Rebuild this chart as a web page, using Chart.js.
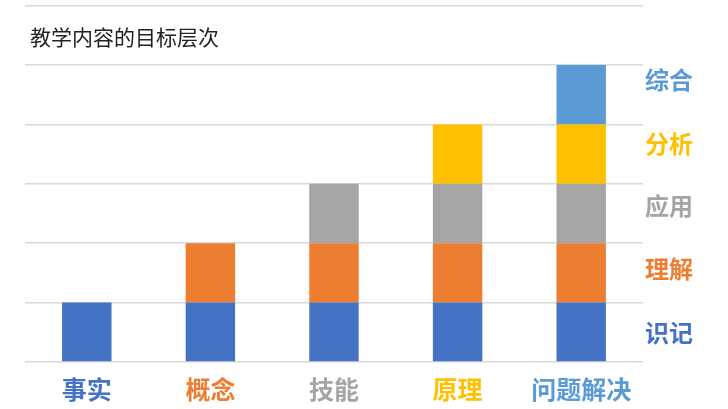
<!DOCTYPE html>
<html>
<head>
<meta charset="utf-8">
<script src="https://cdn.jsdelivr.net/npm/chart.js@4.4.1/dist/chart.umd.min.js"></script>
<style>
  html, body { margin: 0; padding: 0; background: #fff; }
  #wrap { width: 728px; height: 409px; position: relative; }
</style>
</head>
<body>
<div id="wrap"><canvas id="chart"></canvas></div>
<script>
const chartTitle = '教学内容的目标层次';
const categories = ['事实', '概念', '技能', '原理', '问题解决'];
const levels = ['识记', '理解', '应用', '分析', '综合'];
// where the level names sit on the right-hand axis
const levelTicks = [0.49, 1.56, 2.62, 3.68, 4.75];

// one row per level, bottom to top
const recallValues = [1, 1, 1, 1, 1];
const understandValues = [0, 1, 1, 1, 1];
const applyValues = [0, 0, 1, 1, 1];
const analyseValues = [0, 0, 0, 1, 1];
const synthesiseValues = [0, 0, 0, 0, 1];

const colors = ['#4472C4', '#ED7D31', '#A5A5A5', '#FFC000', '#5B9BD5'];
const FONT = '"Noto Sans CJK SC", "Noto Sans", sans-serif';

const seriesValues = [recallValues, understandValues, applyValues, analyseValues, synthesiseValues];

const titlePlugin = {
    id: 'innerTitle',
    afterDraw(chart) {
        const ctx = chart.ctx;
        ctx.save();
        ctx.font = '21px ' + FONT;
        ctx.fillStyle = '#222';
        ctx.textBaseline = 'middle';
        ctx.textAlign = 'left';
        ctx.fillText(chartTitle, 30, 37);
        ctx.restore();
    }
};

new Chart(document.getElementById('chart').getContext('2d'), {
    type: 'bar',
    data: {
        labels: categories,
        datasets: levels.map((name, i) => ({
            label: name,
            data: seriesValues[i],
            backgroundColor: colors[i],
            borderWidth: 0,
            barPercentage: 0.4,
            categoryPercentage: 1.0,
            yAxisID: 'y'
        }))
    },
    options: {
        responsive: true,
        maintainAspectRatio: false,
        animation: false,
        layout: { padding: { left: 25, right: 33, top: 0, bottom: 1 } },
        plugins: {
            legend: { display: false },
            tooltip: { enabled: false }
        },
        scales: {
            x: {
                stacked: true,
                grid: { display: false },
                border: { display: false },
                ticks: {
                    padding: 4,
                    font: { family: FONT, size: 25, weight: 'bold' },
                    color: (c) => colors[c.index]
                }
            },
            y: {
                stacked: true,
                min: 0,
                max: 6,
                position: 'left',
                grid: { color: '#d9d9d9', lineWidth: 1.5, drawTicks: false },
                border: { display: false },
                ticks: { display: false, stepSize: 1 }
            },
            yLevels: {
                min: 0,
                max: 6,
                position: 'right',
                grid: { display: false, drawTicks: false },
                border: { display: false },
                afterBuildTicks: (axis) => {
                    axis.ticks = levelTicks.map(v => ({ value: v }));
                },
                ticks: {
                    padding: 2,
                    autoSkip: false,
                    font: { family: FONT, size: 24, weight: 'bold', lineHeight: 0.3 },
                    color: (c) => colors[c.index],
                    callback: (v, i) => levels[i]
                }
            }
        }
    },
    plugins: [titlePlugin]
});
</script>
</body>
</html>
